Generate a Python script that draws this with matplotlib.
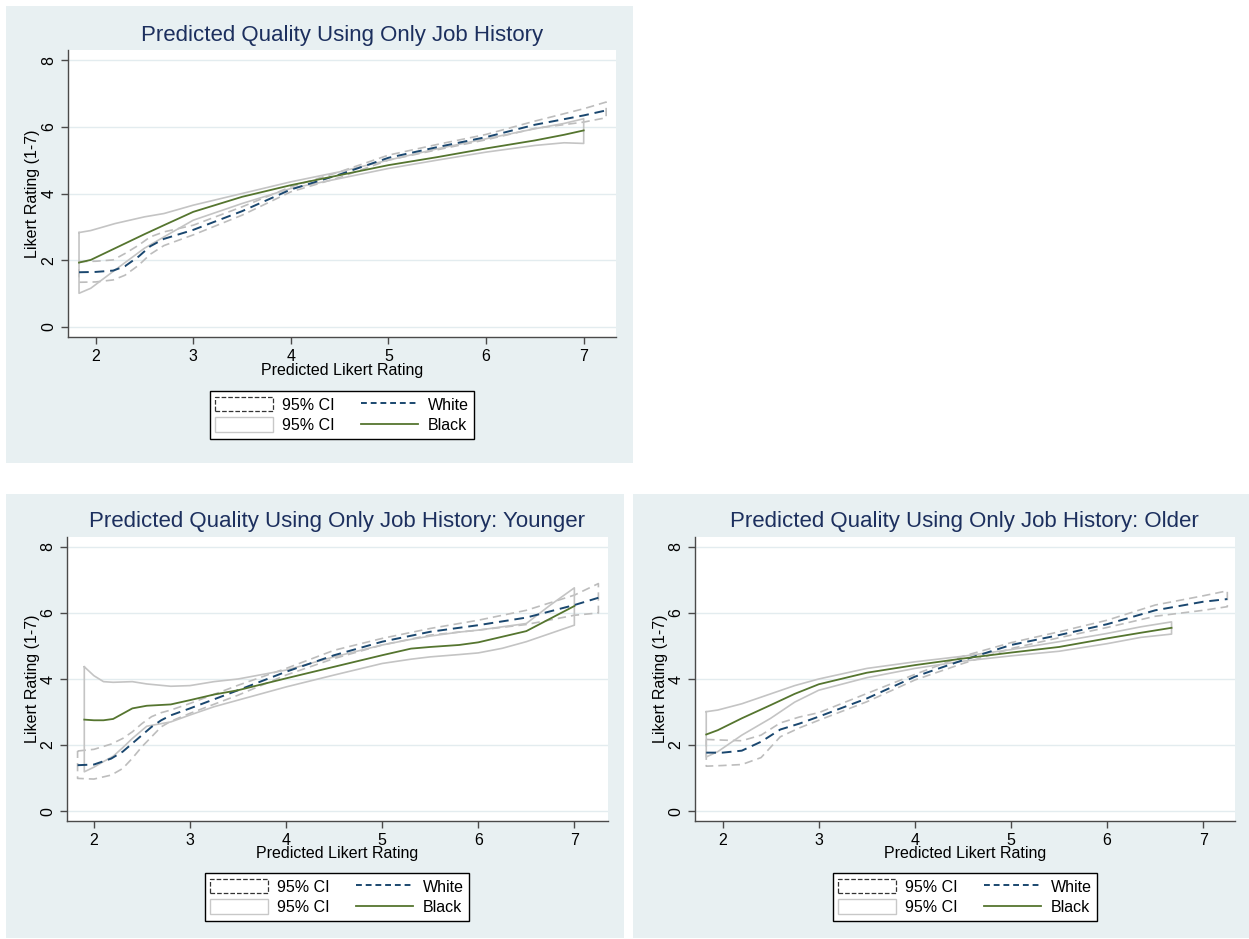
import matplotlib.pyplot as plt
from matplotlib.patches import Rectangle, Patch
from matplotlib.lines import Line2D

plt.rcParams['font.family'] = ['Liberation Sans', 'DejaVu Sans']

# --- all races, predicted quality from job history only ---
all_w_x = [1.83, 2.0, 2.18, 2.3, 2.44, 2.56, 2.7, 3.0, 3.5, 4.0, 4.5, 5.0, 5.5, 6.0, 6.5, 7.0, 7.23]
all_w_fit = [1.64, 1.65, 1.69, 1.82, 2.11, 2.42, 2.64, 2.91, 3.47, 4.12, 4.57, 5.07, 5.39, 5.69, 6.06, 6.34, 6.49]
all_w_hi = [1.96, 1.97, 2.01, 2.2, 2.45, 2.7, 2.85, 3.05, 3.6, 4.2, 4.65, 5.15, 5.47, 5.77, 6.17, 6.54, 6.74]
all_w_lo = [1.34, 1.35, 1.41, 1.55, 1.85, 2.18, 2.44, 2.76, 3.35, 4.05, 4.48, 5.0, 5.31, 5.61, 5.95, 6.14, 6.27]

all_b_x = [1.83, 1.95, 2.2, 2.5, 2.7, 3.0, 3.5, 4.0, 4.5, 5.0, 5.5, 6.0, 6.5, 6.8, 7.0]
all_b_fit = [1.93, 2.01, 2.36, 2.78, 3.05, 3.45, 3.9, 4.25, 4.55, 4.85, 5.09, 5.35, 5.59, 5.76, 5.89]
all_b_hi = [2.83, 2.89, 3.1, 3.3, 3.4, 3.65, 4.0, 4.35, 4.65, 5.0, 5.34, 5.64, 5.94, 6.1, 6.24]
all_b_lo = [1.01, 1.16, 1.71, 2.36, 2.7, 3.2, 3.7, 4.15, 4.45, 4.75, 5.0, 5.24, 5.44, 5.52, 5.5]

# --- younger ---
yng_w_x = [1.83, 2.0, 2.18, 2.3, 2.4, 2.5, 2.6, 2.7, 2.8, 3.0, 3.5, 4.0, 4.5, 5.0, 5.5, 6.0, 6.5, 7.0, 7.25]
yng_w_fit = [1.39, 1.41, 1.59, 1.8, 2.05, 2.3, 2.55, 2.75, 2.9, 3.11, 3.66, 4.22, 4.72, 5.13, 5.43, 5.63, 5.86, 6.24, 6.46]
yng_w_hi = [1.82, 1.87, 2.03, 2.2, 2.4, 2.65, 2.86, 2.98, 3.06, 3.26, 3.81, 4.32, 4.87, 5.23, 5.53, 5.78, 6.08, 6.54, 6.89]
yng_w_lo = [0.99, 0.97, 1.09, 1.29, 1.6, 1.95, 2.25, 2.55, 2.72, 2.96, 3.51, 4.12, 4.62, 5.03, 5.33, 5.48, 5.65, 5.93, 6.0]

yng_b_x = [1.9, 2.0, 2.1, 2.2, 2.3, 2.4, 2.55, 2.8, 3.0, 3.25, 3.5, 4.0, 4.5, 5.0, 5.3, 5.5, 5.8, 6.0, 6.25, 6.5, 6.75, 7.0]
yng_b_fit = [2.77, 2.75, 2.75, 2.79, 2.95, 3.11, 3.19, 3.23, 3.36, 3.53, 3.66, 4.02, 4.37, 4.72, 4.92, 4.97, 5.03, 5.11, 5.28, 5.45, 5.83, 6.21]
yng_b_hi = [4.37, 4.1, 3.92, 3.9, 3.91, 3.92, 3.85, 3.78, 3.8, 3.92, 4.0, 4.27, 4.67, 5.03, 5.2, 5.3, 5.42, 5.48, 5.58, 5.68, 6.24, 6.76]
yng_b_lo = [1.19, 1.33, 1.5, 1.66, 1.92, 2.2, 2.57, 2.7, 2.91, 3.16, 3.36, 3.76, 4.12, 4.47, 4.6, 4.67, 4.74, 4.79, 4.93, 5.13, 5.38, 5.63]

# --- older ---
old_w_x = [1.83, 2.0, 2.2, 2.4, 2.6, 2.8, 3.0, 3.5, 4.0, 4.5, 5.0, 5.5, 6.0, 6.5, 7.0, 7.25]
old_w_fit = [1.77, 1.77, 1.83, 2.1, 2.47, 2.65, 2.86, 3.41, 4.07, 4.57, 5.03, 5.33, 5.66, 6.08, 6.34, 6.42]
old_w_hi = [2.17, 2.15, 2.13, 2.3, 2.67, 2.85, 2.98, 3.56, 4.14, 4.69, 5.1, 5.43, 5.78, 6.24, 6.52, 6.67]
old_w_lo = [1.36, 1.38, 1.41, 1.62, 2.25, 2.52, 2.75, 3.31, 3.97, 4.47, 4.92, 5.25, 5.56, 5.9, 6.08, 6.19]

old_b_x = [1.83, 1.95, 2.2, 2.5, 2.75, 3.0, 3.5, 4.0, 4.5, 5.0, 5.5, 6.0, 6.35, 6.67]
old_b_fit = [2.32, 2.45, 2.81, 3.21, 3.55, 3.84, 4.19, 4.42, 4.62, 4.8, 4.97, 5.23, 5.4, 5.55]
old_b_hi = [3.01, 3.06, 3.25, 3.55, 3.8, 4.0, 4.32, 4.52, 4.69, 4.89, 5.13, 5.38, 5.58, 5.73]
old_b_lo = [1.64, 1.8, 2.3, 2.81, 3.3, 3.66, 4.04, 4.32, 4.54, 4.7, 4.84, 5.07, 5.26, 5.36]

x_ticks = [2, 3, 4, 5, 6, 7]
y_ticks = [0, 2, 4, 6, 8]

BG = '#e8f0f2'
NAVY = '#1a476f'
GREEN = '#55752f'
CI_W = '#bdbdbd'
CI_B = '#c4c4c4'
TITLE_C = '#1c2f5e'

W, H = 1249, 939
fig = plt.figure(figsize=(W / 100, H / 100), dpi=100)


def fx(px):
    return px / W


def fy(py):
    return 1 - py / H


def panel(x0, y0, x1, y1):
    fig.patches.append(Rectangle((fx(x0), fy(y1)), fx(x1 - x0), (y1 - y0) / H,
                                 transform=fig.transFigure, facecolor=BG,
                                 edgecolor='none', zorder=-5))


def make_axes(x0, y0, x1, y1):
    ax = fig.add_axes([fx(x0), fy(y1), fx(x1 - x0), (y1 - y0) / H])
    ax.set_zorder(2)
    return ax


def outline(ax, x, hi, lo, color, ls):
    xs = list(x) + list(x[::-1]) + [x[0]]
    ys = list(hi) + list(lo[::-1]) + [hi[0]]
    ax.plot(xs, ys, color=color, lw=1.2, ls=ls, zorder=2)


def draw(ax, title, tx, ty, xlim, wdat, bdat, leg_c):
    wx, wfit, whi, wlo = wdat
    bx, bfit, bhi, blo = bdat
    outline(ax, wx, whi, wlo, CI_W, (0, (5, 3)))
    outline(ax, bx, bhi, blo, CI_B, '-')
    ax.plot(wx, wfit, color=NAVY, lw=1.4, dashes=(5, 3), zorder=3)
    ax.plot(bx, bfit, color=GREEN, lw=1.3, zorder=3)

    ax.set_xlim(*xlim)
    ax.set_ylim(-0.3, 8.3)
    ax.set_xticks(x_ticks)
    ax.set_yticks(y_ticks)
    ax.grid(axis='y', color='#e3ecef', lw=1.0, zorder=1)
    ax.set_axisbelow(True)
    for s in ('top', 'right'):
        ax.spines[s].set_visible(False)
    for s in ('left', 'bottom'):
        ax.spines[s].set_color('#4a4a4a')
        ax.spines[s].set_linewidth(1.0)
    ax.tick_params(colors='#4a4a4a', labelcolor='black', length=5, width=1.0,
                   labelsize=11.5)
    for lab in ax.get_yticklabels():
        lab.set_rotation(90)
        lab.set_va('center')
    ax.set_xlabel('Predicted Likert Rating', fontsize=11.5)
    ax.set_ylabel('Likert Rating (1-7)', fontsize=11.5)
    ax.xaxis.set_label_coords(0.5, -0.115)
    ax.yaxis.set_label_coords(-0.064, 0.5)
    ax.xaxis.label.set_va('center')
    ax.yaxis.label.set_va('center')

    fig.text(fx(tx), fy(ty), title, ha='center', va='center',
             fontsize=16, color=TITLE_C)

    handles = [
        Patch(facecolor='white', edgecolor='#333333', linestyle='--', lw=0.9),
        Patch(facecolor='white', edgecolor='#c8c8c8', lw=1.0),
        Line2D([], [], color=NAVY, lw=1.4, dashes=(3, 2)),
        Line2D([], [], color=GREEN, lw=1.3),
    ]
    labels = ['95% CI', '95% CI', 'White', 'Black']
    leg = fig.legend(handles, labels, ncol=2, loc='center',
                     bbox_to_anchor=(fx(leg_c[0]), fy(leg_c[1])),
                     fontsize=11.5, frameon=True, fancybox=False, framealpha=1,
                     handlelength=3.6, handleheight=1.0, handletextpad=0.6,
                     columnspacing=1.6, labelspacing=0.3, borderpad=0.35,
                     borderaxespad=0)
    leg.get_frame().set_edgecolor('black')
    leg.get_frame().set_linewidth(1.0)
    leg.set_zorder(3)


panel(6, 6, 633, 463)
panel(6, 494, 624, 938)
panel(633, 494, 1249, 938)

ax1 = make_axes(68, 50, 616, 337)
draw(ax1, 'Predicted Quality Using Only Job History', 342, 35, (1.717, 7.331),
     (all_w_x, all_w_fit, all_w_hi, all_w_lo),
     (all_b_x, all_b_fit, all_b_hi, all_b_lo), (342, 415))

ax2 = make_axes(67, 537, 608, 821)
draw(ax2, 'Predicted Quality Using Only Job History: Younger', 337, 522, (1.72, 7.35),
     (yng_w_x, yng_w_fit, yng_w_hi, yng_w_lo),
     (yng_b_x, yng_b_fit, yng_b_hi, yng_b_lo), (337, 897))

ax3 = make_axes(695, 537, 1235, 821)
draw(ax3, 'Predicted Quality Using Only Job History: Older', 964, 522, (1.713, 7.33),
     (old_w_x, old_w_fit, old_w_hi, old_w_lo),
     (old_b_x, old_b_fit, old_b_hi, old_b_lo), (965, 897))

fig.savefig('out.png', dpi=100)
